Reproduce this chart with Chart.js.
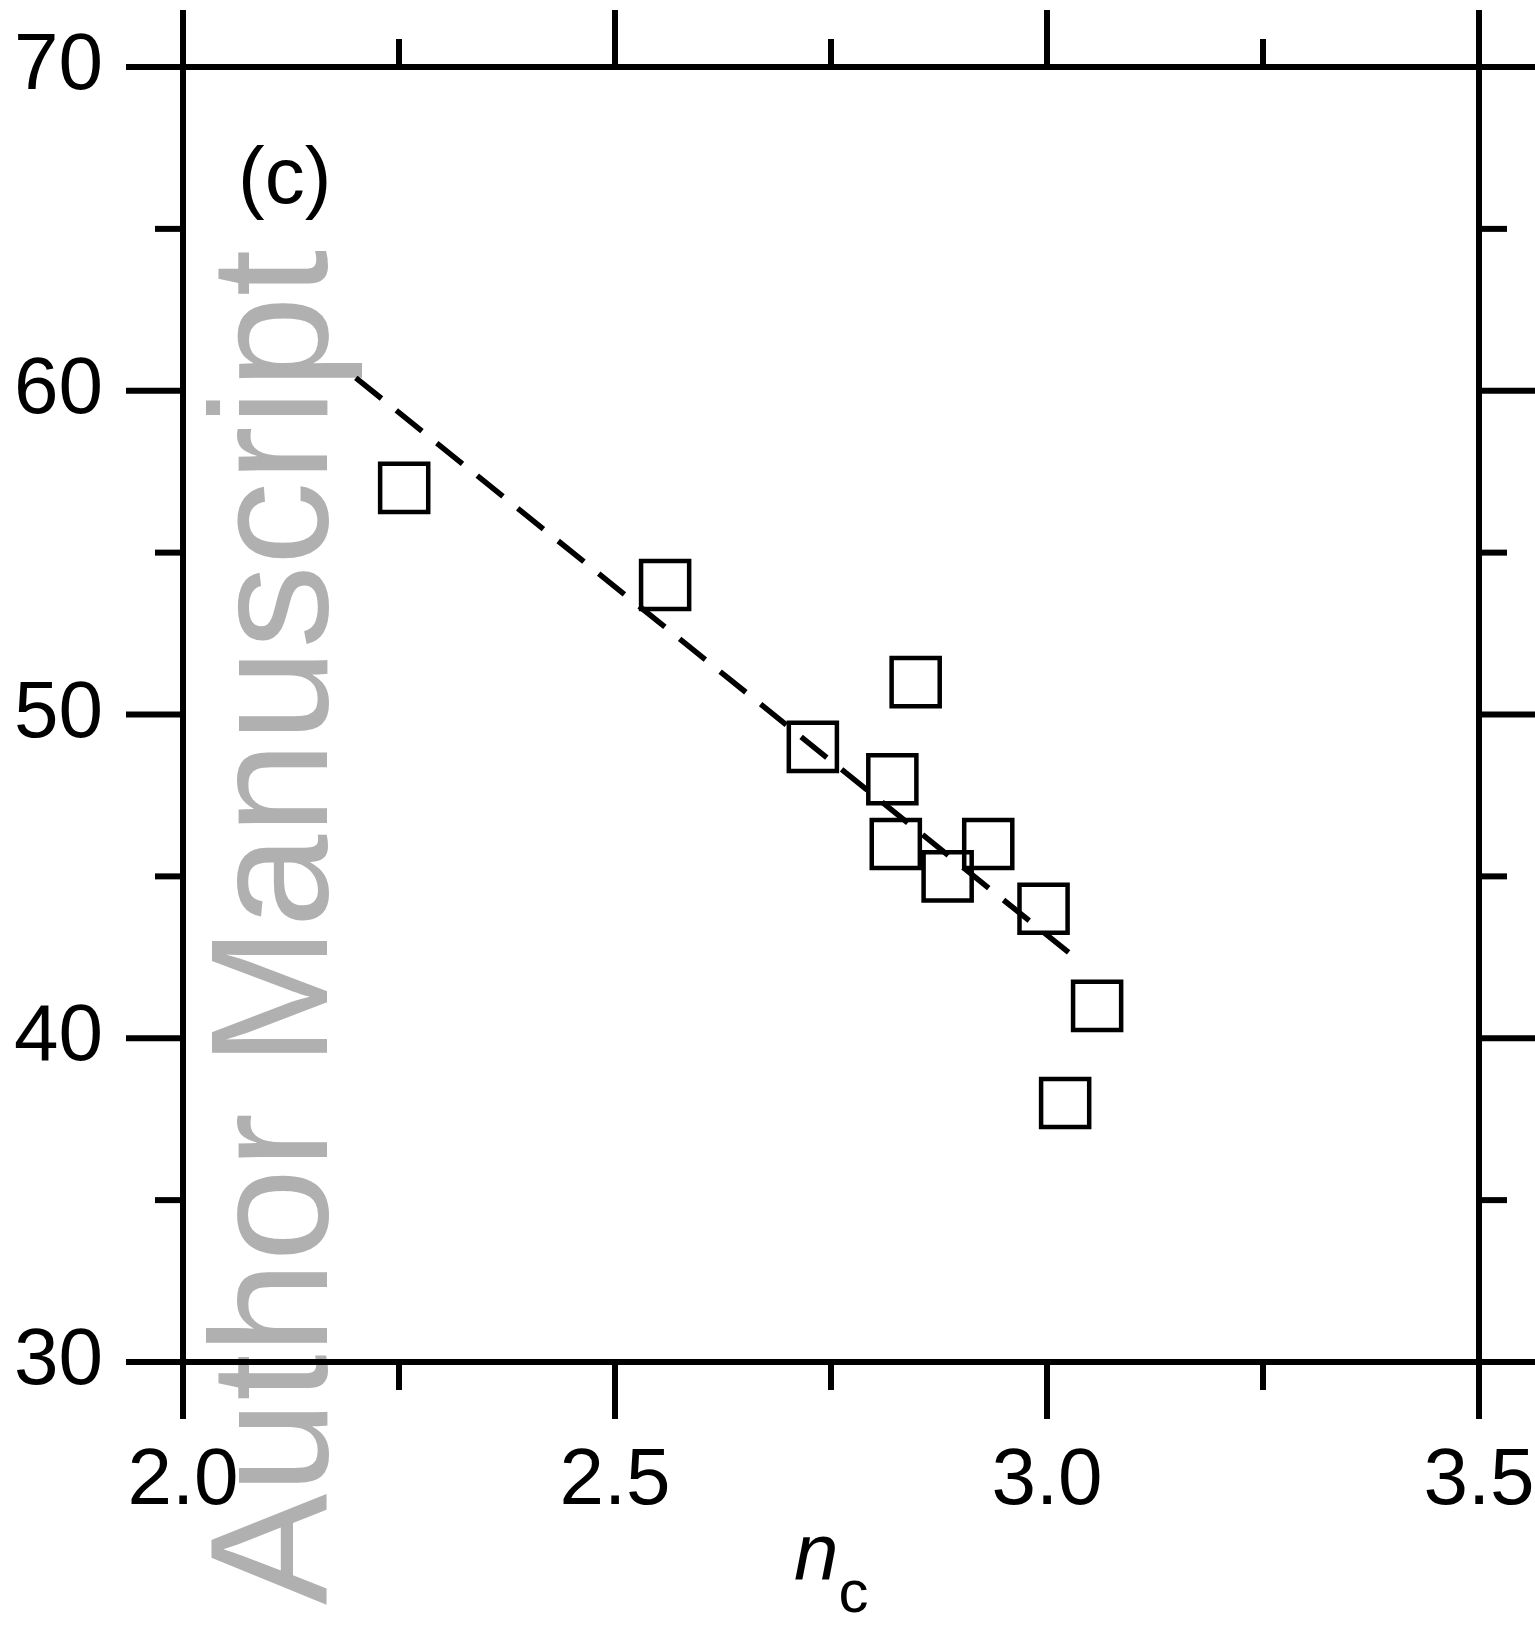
<!DOCTYPE html>
<html>
<head>
<meta charset="utf-8">
<script src="https://cdn.jsdelivr.net/npm/chart.js@4.4.1/dist/chart.umd.min.js"></script>
<style>
  html, body { margin: 0; padding: 0; background: #fff; }
  #wrap { width: 1535px; height: 1627px; }
</style>
</head>
<body>
<div id="wrap"><canvas id="myChart" width="1535" height="1627"></canvas></div>
<script>
const FONT = "'Liberation Sans', Arial, Helvetica, sans-serif";

// data
const nc = [2.256, 2.558, 2.729, 2.848, 2.821, 2.825, 2.932, 2.885, 2.996, 3.058, 3.021];
const values = [57, 54, 49, 51, 48, 46, 46, 45, 44, 41, 38];
const fitX = [2.2, 3.025];
const fitY = [60.4, 42.65];

// axis ticks
const xMajor = [2.0, 2.5, 3.0, 3.5];
const xMinor = [2.25, 2.75, 3.25];
const yMajor = [30, 40, 50, 60, 70];
const yMinor = [35, 45, 55, 65];
const xTickLabels = ['2.0', '2.5', '3.0', '3.5'];
const yTickLabels = ['30', '40', '50', '60', '70'];

const panelLabel = '(c)';
const watermark = 'Author Manuscript';

const points = nc.map((v, i) => ({ x: v, y: values[i] }));
const fitLine = fitX.map((v, i) => ({ x: v, y: fitY[i] }));

// fixed box size, and no extra room for overhanging labels
function fixBox(size) {
  return s => {
    if (s.isHorizontal()) s.height = size; else s.width = size;
    s.paddingLeft = s.paddingRight = s.paddingTop = s.paddingBottom = 0;
  };
}

// gray watermark under everything
const watermarkPlugin = {
  id: 'watermark',
  beforeDraw(chart) {
    const ctx = chart.ctx;
    ctx.save();
    ctx.translate(327, 1605);
    ctx.rotate(-Math.PI / 2);
    ctx.font = '167px ' + FONT;
    ctx.fillStyle = '#b0b0b0';
    ctx.textAlign = 'left';
    ctx.textBaseline = 'alphabetic';
    ctx.fillText(watermark, 0, 0);
    ctx.restore();
  }
};

// outward ticks on all four sides, plus panel label and axis title
const framePlugin = {
  id: 'frame',
  afterDraw(chart) {
    const { ctx, chartArea: a } = chart;
    const xs = chart.scales.x, ys = chart.scales.y;
    ctx.save();
    ctx.strokeStyle = '#000';
    ctx.lineWidth = 6;
    ctx.lineCap = 'butt';
    const line = (x1, y1, x2, y2) => {
      ctx.beginPath(); ctx.moveTo(x1, y1); ctx.lineTo(x2, y2); ctx.stroke();
    };
    const xt = (list, len) => list.forEach(v => {
      const p = xs.getPixelForValue(v);
      line(p, a.top, p, a.top - len);
      line(p, a.bottom, p, a.bottom + len);
    });
    const yt = (list, len) => list.forEach(v => {
      const p = ys.getPixelForValue(v);
      line(a.left, p, a.left - len, p);
      line(a.right, p, a.right + len, p);
    });
    xt(xMajor, 57); xt(xMinor, 28);
    yt(yMajor, 57); yt(yMinor, 28);

    ctx.fillStyle = '#000';
    ctx.textBaseline = 'alphabetic';
    ctx.textAlign = 'left';
    ctx.font = '80px ' + FONT;
    ctx.fillText(panelLabel, 238, 203);

    // x title: italic n with subscript c
    const cx = xs.getPixelForValue(2.75);
    ctx.font = 'italic 80px ' + FONT;
    ctx.fillText('n', cx - 37, 1580);
    const w = ctx.measureText('n').width;
    ctx.font = '60px ' + FONT;
    ctx.fillText('c', cx - 37 + w, 1612);
    ctx.restore();
  }
};

const ctx = document.getElementById('myChart').getContext('2d');
const chart = new Chart(ctx, {
  type: 'scatter',
  data: {
    datasets: [
      {
        label: 'data',
        data: points,
        pointStyle: 'rect',
        pointRadius: 34,
        pointBorderWidth: 4.5,
        pointBorderColor: '#000',
        pointBackgroundColor: 'rgba(0,0,0,0)',
        showLine: false
      },
      {
        type: 'line',
        label: 'fit',
        data: fitLine,
        borderColor: '#000',
        borderWidth: 5.5,
        borderDash: [33, 19],
        borderCapStyle: 'butt',
        pointRadius: 0,
        fill: false
      }
    ]
  },
  options: {
    responsive: false,
    devicePixelRatio: 1,
    animation: false,
    layout: { padding: 0 },
    plugins: {
      legend: { display: false },
      tooltip: { enabled: false }
    },
    scales: {
      x: {
        type: 'linear',
        position: 'bottom',
        min: 2.0,
        max: 3.5,
        afterBuildTicks: s => { s.ticks = xMajor.map(v => ({ value: v })); },
        afterFit: fixBox(265),
        ticks: {
          color: '#000',
          font: { family: FONT, size: 80 },
          padding: 72,
          maxRotation: 0,
          autoSkip: false,
          callback: (v, i) => xTickLabels[i]
        },
        grid: { display: false, drawTicks: false, tickLength: 0 },
        border: { display: true, color: '#000', width: 6 }
      },
      x2: {
        type: 'linear',
        position: 'top',
        min: 2.0,
        max: 3.5,
        afterFit: fixBox(67),
        ticks: { display: false },
        grid: { display: false, drawTicks: false },
        border: { display: true, color: '#000', width: 6 }
      },
      y: {
        type: 'linear',
        position: 'left',
        min: 30,
        max: 70,
        afterBuildTicks: s => { s.ticks = yMajor.map(v => ({ value: v })); },
        afterFit: fixBox(183),
        ticks: {
          color: '#000',
          font: { family: FONT, size: 80 },
          padding: 80,
          autoSkip: false,
          callback: (v, i) => yTickLabels[i]
        },
        grid: { display: false, drawTicks: false, tickLength: 0 },
        border: { display: true, color: '#000', width: 6 }
      },
      y2: {
        type: 'linear',
        position: 'right',
        min: 30,
        max: 70,
        afterFit: fixBox(56),
        ticks: { display: false },
        grid: { display: false, drawTicks: false },
        border: { display: true, color: '#000', width: 6 }
      }
    }
  },
  plugins: [watermarkPlugin, framePlugin]
});
</script>
</body>
</html>
